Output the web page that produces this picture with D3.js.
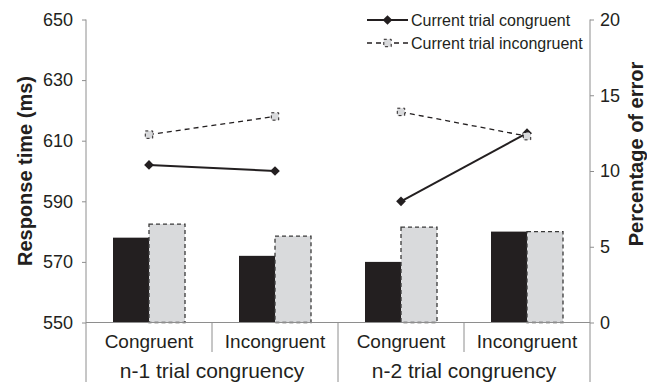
<!DOCTYPE html>
<html>
<head>
<meta charset="utf-8">
<script src="https://cdn.jsdelivr.net/npm/d3@7"></script>
<style>
  html, body { margin: 0; padding: 0; background: #fff; }
  svg { display: block; font-family: "Liberation Sans", Arial, Helvetica, sans-serif; }
</style>
</head>
<body>
<svg id="chart" width="647" height="382"></svg>
<script>
// Conditions along the x axis (two levels: current category, grouping)
const categories = ["n1-Congruent", "n1-Incongruent", "n2-Congruent", "n2-Incongruent"];
const categoryLabels = ["Congruent", "Incongruent", "Congruent", "Incongruent"];
const groupLabels = ["n-1 trial congruency", "n-2 trial congruency"];

// Error rates (%), right axis — bars
const errorCongruent = [5.6, 4.4, 4.0, 6.0];
const errorIncongruent = [6.5, 5.7, 6.3, 6.0];

// Response times (ms), left axis — lines
const rtCongruent = [602, 600, 590, 612.5];
const rtIncongruent = [612, 618, 619.5, 611.5];

// Axis ticks
const rtTicks = [550, 570, 590, 610, 630, 650];
const errTicks = [0, 5, 10, 15, 20];

const legendLabels = ["Current trial congruent", "Current trial incongruent"];

(function draw() {
  const svg = d3.select("#chart");
  const plotLeft = 86, plotRight = 590, plotTop = 19.5, plotBottom = 322.5;
  const axisColor = "#8e8e8e";
  const ink = "#231f20";

  const x0 = d3.scaleBand().domain(categories).range([plotLeft, plotRight]).padding(0);
  const x1 = d3.scaleBand().domain(["con", "inc"]).range([0, x0.bandwidth()])
    .paddingInner(0).paddingOuter(0.75);
  const yL = d3.scaleLinear().domain([550, 650]).range([plotBottom, plotTop]);
  const yR = d3.scaleLinear().domain([0, 20]).range([plotBottom, plotTop]);

  // Bars
  const barData = categories.map((c, i) => ({ c, con: errorCongruent[i], inc: errorIncongruent[i] }));
  const bars = svg.append("g");
  bars.selectAll("rect.con").data(barData).join("rect")
    .attr("class", "con")
    .attr("x", d => x0(d.c) + x1("con"))
    .attr("y", d => yR(d.con))
    .attr("width", x1.bandwidth())
    .attr("height", d => plotBottom - yR(d.con))
    .attr("fill", ink);
  bars.selectAll("rect.inc").data(barData).join("rect")
    .attr("class", "inc")
    .attr("x", d => x0(d.c) + x1("inc"))
    .attr("y", d => yR(d.inc))
    .attr("width", x1.bandwidth())
    .attr("height", d => plotBottom - yR(d.inc))
    .attr("fill", "#d9dadc")
    .attr("stroke", "#3a3a3a")
    .attr("stroke-width", 1.3)
    .attr("stroke-dasharray", "4,3");

  // Axes
  const axL = svg.append("g").attr("transform", `translate(${plotLeft},0)`)
    .call(d3.axisLeft(yL).tickValues(rtTicks).tickSize(4).tickPadding(9));
  const axR = svg.append("g").attr("transform", `translate(${plotRight},0)`)
    .call(d3.axisRight(yR).tickValues(errTicks).tickSize(4).tickPadding(6));
  [axL, axR].forEach(ax => {
    ax.select(".domain").remove();
    ax.selectAll(".tick line").attr("stroke", axisColor);
    ax.selectAll(".tick text").attr("font-size", 18).attr("fill", ink)
      .attr("font-family", "Liberation Sans, Arial, sans-serif");
  });

  // Axis frame lines (extend below the plot through the category area)
  const frame = svg.append("g").attr("stroke", axisColor).attr("stroke-width", 1);
  frame.append("line").attr("x1", plotLeft).attr("x2", plotLeft).attr("y1", plotTop).attr("y2", 382);
  frame.append("line").attr("x1", plotRight).attr("x2", plotRight).attr("y1", plotTop).attr("y2", 382);
  frame.append("line").attr("x1", plotLeft).attr("x2", plotRight).attr("y1", plotBottom).attr("y2", plotBottom);
  // Separators between categories
  categories.slice(1).forEach((c, i) => {
    const xs = x0(c);
    frame.append("line").attr("x1", xs).attr("x2", xs)
      .attr("y1", plotBottom).attr("y2", i === 1 ? 382 : 352);
  });

  // Category labels
  svg.append("g").selectAll("text").data(categories).join("text")
    .attr("x", d => x0(d) + x0.bandwidth() / 2)
    .attr("y", 348)
    .attr("text-anchor", "middle")
    .attr("font-size", 19)
    .attr("fill", ink)
    .text((d, i) => categoryLabels[i]);

  svg.append("g").selectAll("text").data(groupLabels).join("text")
    .attr("x", (d, i) => x0(categories[i * 2 + 1]))
    .attr("y", 378)
    .attr("text-anchor", "middle")
    .attr("font-size", 21)
    .attr("fill", ink)
    .text(d => d);

  // Axis titles
  svg.append("text")
    .attr("transform", `translate(32,${(plotTop + plotBottom) / 2}) rotate(-90)`)
    .attr("text-anchor", "middle")
    .attr("font-size", 20).attr("font-weight", "bold").attr("fill", ink)
    .text("Response time (ms)");
  svg.append("text")
    .attr("transform", `translate(643,154) rotate(-90)`)
    .attr("text-anchor", "middle")
    .attr("font-size", 20).attr("font-weight", "bold").attr("fill", ink)
    .text("Percentage of error");

  // Lines
  const cx = c => x0(c) + x0.bandwidth() / 2;
  const segs = [[0, 1], [2, 3]];
  const diamond = d3.symbol().type(d3.symbolDiamond2).size(60);
  const square = d3.symbol().type(d3.symbolSquare).size(55);

  const lineG = svg.append("g");
  segs.forEach(([a, b]) => {
    const ptsI = [a, b].map(i => [cx(categories[i]), yL(rtIncongruent[i])]);
    lineG.append("path").attr("d", d3.line()(ptsI))
      .attr("fill", "none").attr("stroke", ink).attr("stroke-width", 1.3)
      .attr("stroke-dasharray", "5,4");
    const ptsC = [a, b].map(i => [cx(categories[i]), yL(rtCongruent[i])]);
    lineG.append("path").attr("d", d3.line()(ptsC))
      .attr("fill", "none").attr("stroke", ink).attr("stroke-width", 2);
  });
  lineG.selectAll("path.dia").data(categories).join("path")
    .attr("class", "dia")
    .attr("transform", (d, i) => `translate(${cx(d)},${yL(rtCongruent[i])})`)
    .attr("d", diamond).attr("fill", ink);
  lineG.selectAll("path.sq").data(categories).join("path")
    .attr("class", "sq")
    .attr("transform", (d, i) => `translate(${cx(d)},${yL(rtIncongruent[i])})`)
    .attr("d", square).attr("fill", "#d9dadc")
    .attr("stroke", ink).attr("stroke-width", 1).attr("stroke-dasharray", "3,3");

  // Legend
  const lg = svg.append("g");
  const lx1 = 367, lx2 = 408, ly = [20, 43];
  lg.append("line").attr("x1", lx1).attr("x2", lx2).attr("y1", ly[0]).attr("y2", ly[0])
    .attr("stroke", ink).attr("stroke-width", 2);
  lg.append("path").attr("transform", `translate(${(lx1 + lx2) / 2},${ly[0]})`)
    .attr("d", diamond).attr("fill", ink);
  lg.append("line").attr("x1", lx1).attr("x2", lx2).attr("y1", ly[1]).attr("y2", ly[1])
    .attr("stroke", ink).attr("stroke-width", 1.3).attr("stroke-dasharray", "5,4");
  lg.append("path").attr("transform", `translate(${(lx1 + lx2) / 2},${ly[1]})`)
    .attr("d", square).attr("fill", "#d9dadc")
    .attr("stroke", ink).attr("stroke-width", 1).attr("stroke-dasharray", "3,3");
  lg.selectAll("text").data(legendLabels).join("text")
    .attr("x", 411).attr("y", (d, i) => ly[i] + 6)
    .attr("font-size", 16).attr("fill", ink)
    .text(d => d);
})();
</script>
</body>
</html>
